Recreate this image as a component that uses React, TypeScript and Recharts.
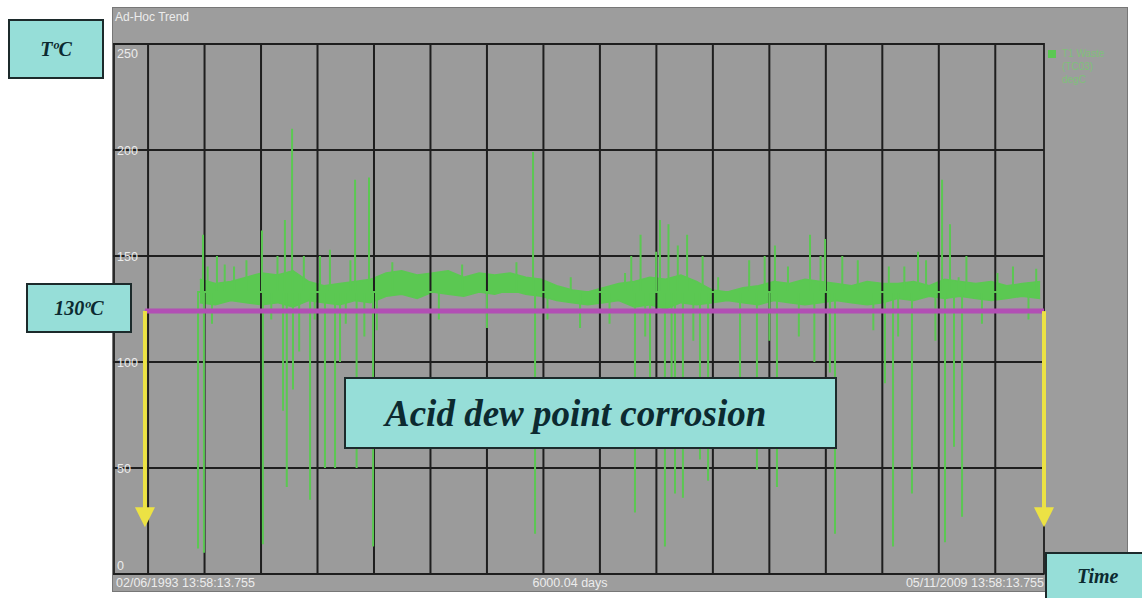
import React from 'react';
import { ComposedChart, Area, Line, XAxis, YAxis, CartesianGrid, ReferenceLine } from 'recharts';

// band of the normal running temperature, sampled every ~100 days
const bandDays = [560, 660, 760, 860, 960, 1060, 1160, 1260, 1360, 1460, 1560, 1660, 1760, 1860, 1960, 2060, 2160, 2260, 2360, 2460, 2560, 2660, 2760, 2860, 2960, 3060, 3160, 3260, 3360, 3460, 3560, 3660, 3760, 3860, 3960, 4060, 4160, 4260, 4360, 4460, 4560, 4660, 4760, 4860, 4960, 5060, 5160, 5260, 5360, 5460, 5560, 5660, 5760, 5860, 5975];
const bandLow = [128, 127, 129, 128, 127, 128, 126, 129, 128, 127, 129, 128, 131, 132, 130, 133, 132, 131, 133, 132, 134, 132, 131, 129, 128, 127, 128, 129, 126, 127, 125, 128, 127, 128, 129, 128, 127, 129, 128, 127, 128, 129, 128, 127, 128, 130, 129, 131, 130, 131, 130, 129, 130, 131, 130];
const bandHigh = [139, 137, 138, 140, 142, 141, 143, 138, 136, 137, 138, 139, 142, 143, 141, 142, 143, 140, 142, 141, 142, 140, 139, 136, 134, 133, 135, 137, 138, 140, 139, 141, 138, 134, 133, 135, 136, 138, 137, 139, 138, 137, 136, 138, 137, 137, 138, 136, 139, 138, 137, 138, 136, 137, 138];

// excursions out of the band: [day, temperature]
const spikes: [number, number][] = [
  [548, 12], [580, 160], [586, 10], [610, 145], [638, 118], [670, 150], [720, 146], [780, 145], [860, 148],
  [960, 162], [966, 14], [1020, 120], [1060, 150], [1096, 77], [1108, 167], [1120, 41], [1154, 210],
  [1160, 87], [1200, 105], [1230, 150], [1270, 35], [1300, 120], [1334, 150], [1366, 50], [1398, 153],
  [1431, 50], [1463, 100], [1500, 118], [1530, 148], [1560, 186], [1570, 50], [1620, 112], [1650, 187],
  [1676, 13], [1700, 115], [1800, 147], [2100, 120], [2250, 146], [2410, 116], [2600, 147], [2707, 199],
  [2720, 19], [2800, 120], [2950, 140], [3010, 116], [3200, 118], [3300, 142], [3340, 150], [3364, 29],
  [3400, 160], [3430, 112], [3461, 90], [3500, 152], [3525, 167], [3557, 13], [3580, 165], [3600, 70],
  [3622, 38], [3640, 155], [3673, 36], [3700, 160], [3740, 110], [3783, 54], [3800, 150], [3835, 44],
  [3900, 140], [4041, 73], [4100, 148], [4150, 49], [4200, 150], [4230, 110], [4266, 155], [4279, 41],
  [4350, 145], [4420, 112], [4492, 160], [4520, 100], [4560, 150], [4589, 158], [4620, 95], [4653, 19],
  [4700, 150], [4800, 148], [4900, 115], [4975, 90], [5000, 145], [5027, 13], [5060, 112], [5100, 145],
  [5149, 38], [5188, 152], [5240, 148], [5300, 110], [5343, 186], [5362, 15], [5394, 165], [5420, 60],
  [5450, 140], [5472, 27], [5500, 150], [5600, 118], [5700, 142], [5800, 145], [5900, 120], [5950, 144],
];
const spikeBase = 133;

const gridDays = [226, 590, 954, 1318, 1682, 2046, 2410, 2774, 3138, 3502, 3866, 4230, 4594, 4958, 5322, 5686];
const yTicks = [0, 50, 100, 150, 200, 250];
const limitTemp = 124;
const arrowDays = [206, 6000];
const arrowTip = 22;

const bandData = bandDays.map((d, i) => ({ day: d, band: [bandLow[i], bandHigh[i]] }));
const spikeData = spikes.flatMap(([d, v]) => [
  { day: d, v: spikeBase },
  { day: d, v },
  { day: d, v: spikeBase },
]);

const W = 1142;
const H = 598;
const M = { top: 44, left: 83, right: 98, bottom: 24 };
const PLOT_LEFT = 113;
const GREEN = '#5bc852';
const GRID = '#1e1e1e';
const LABEL = '#ececec';
const sans = '"Liberation Sans", Arial, sans-serif';
const serif = '"Liberation Serif", "Times New Roman", serif';

const YTick = (p: any) => {
  const top = M.top + 9;
  const bottom = H - M.bottom - 9;
  const y = Math.min(Math.max(p.y, top), bottom);
  return (
    <text x={PLOT_LEFT + 4} y={y} dy={4.5} fill={LABEL} fontSize={12.5} fontFamily={sans} textAnchor="start">
      {p.payload.value}
    </text>
  );
};

const Arrow = (p: any) => {
  const { x1, y1, x2, y2 } = p;
  return (
    <g>
      <line x1={x1} y1={y1} x2={x2} y2={y2 - 18} stroke="#ece244" strokeWidth={4} />
      <polygon points={`${x2 - 10},${y2 - 20} ${x2 + 10},${y2 - 20} ${x2},${y2}`} fill="#ece244" />
    </g>
  );
};

const boxStyle: React.CSSProperties = {
  position: 'absolute',
  background: '#96ded8',
  border: '2px solid #1c2a2b',
  boxSizing: 'border-box',
  color: '#0c2a30',
  fontFamily: serif,
  fontWeight: 'bold',
  fontStyle: 'italic',
  display: 'flex',
  alignItems: 'center',
  justifyContent: 'center',
};

export default function App() {
  return (
    <div style={{ position: 'absolute', left: 0, top: 0, width: W, height: H, background: '#fff', overflow: 'hidden' }}>
      {/* trend panel */}
      <div style={{ position: 'absolute', left: 112, top: 7, width: 1016, height: 585, background: '#9d9d9d', border: '1px solid #777', boxSizing: 'border-box' }} />
      <div style={{ position: 'absolute', left: 115, top: 10, color: LABEL, fontFamily: sans, fontSize: 12 }}>Ad-Hoc Trend</div>
      <div style={{ position: 'absolute', left: 113, top: 43, width: 932, height: 532, background: '#9b9b9b', border: '2px solid #2a2a2a', boxSizing: 'border-box' }} />
      <div style={{ position: 'absolute', left: 113, top: 574, width: 932, height: 18, borderTop: '1px solid #555', boxSizing: 'border-box' }} />
      <div style={{ position: 'absolute', left: 116, top: 576, color: LABEL, fontFamily: sans, fontSize: 12.5 }}>02/06/1993 13:58:13.755</div>
      <div style={{ position: 'absolute', left: 520, width: 100, textAlign: 'center', top: 576, color: LABEL, fontFamily: sans, fontSize: 12.5 }}>6000.04 days</div>
      <div style={{ position: 'absolute', left: 844, width: 200, textAlign: 'right', top: 576, color: LABEL, fontFamily: sans, fontSize: 12.5 }}>05/11/2009 13:58:13.755</div>

      {/* legend */}
      <div style={{ position: 'absolute', left: 1048, top: 47, fontFamily: sans, fontSize: 10, color: '#7fc07a', lineHeight: '13px', display: 'flex' }}>
        <span style={{ width: 8, height: 8, background: GREEN, marginTop: 3, marginRight: 6 }} />
        <div>
          <div>T1 Waste</div>
          <div>(TC03)</div>
          <div>degC</div>
        </div>
      </div>

      <div style={{ position: 'absolute', left: 0, top: 0 }}>
        <ComposedChart width={W} height={H} data={bandData} margin={M}>
          <CartesianGrid stroke={GRID} strokeWidth={2} vertical={false} />
          <XAxis dataKey="day" type="number" domain={[0, 6000]} ticks={gridDays} height={0} tick={false} axisLine={false} tickLine={false} allowDataOverflow />
          <YAxis type="number" domain={[0, 250]} ticks={yTicks} width={30} axisLine={false} tickLine={false} tick={<YTick />} />
          {gridDays.map((d) => (
            <ReferenceLine key={`g${d}`} x={d} stroke={GRID} strokeWidth={2} />
          ))}
          <Area dataKey="band" type="linear" stroke={GREEN} strokeWidth={1.5} fill={GREEN} fillOpacity={1} isAnimationActive={false} />
          <Line data={spikeData} dataKey="v" type="linear" stroke={GREEN} strokeWidth={2} dot={false} isAnimationActive={false} />
          <ReferenceLine segment={[{ x: arrowDays[0], y: limitTemp }, { x: 6000, y: limitTemp }]} stroke="#b24fb4" strokeWidth={5} />
          {arrowDays.map((d) => (
            <ReferenceLine key={d} segment={[{ x: d, y: limitTemp }, { x: d, y: arrowTip }]} shape={<Arrow />} />
          ))}
        </ComposedChart>
      </div>

      {/* annotations */}
      <div style={{ ...boxStyle, left: 8, top: 19, width: 96, height: 60, fontSize: 20 }}>TºC</div>
      <div style={{ ...boxStyle, left: 26, top: 283, width: 106, height: 50, fontSize: 20 }}>130ºC</div>
      <div style={{ ...boxStyle, left: 344, top: 377, width: 493, height: 72, fontSize: 37, justifyContent: 'flex-start', paddingLeft: 39 }}>Acid dew point corrosion</div>
      <div style={{ ...boxStyle, left: 1045, top: 552, width: 110, height: 60, fontSize: 20, justifyContent: 'flex-start', paddingLeft: 30, paddingBottom: 12 }}>Time</div>
    </div>
  );
}
